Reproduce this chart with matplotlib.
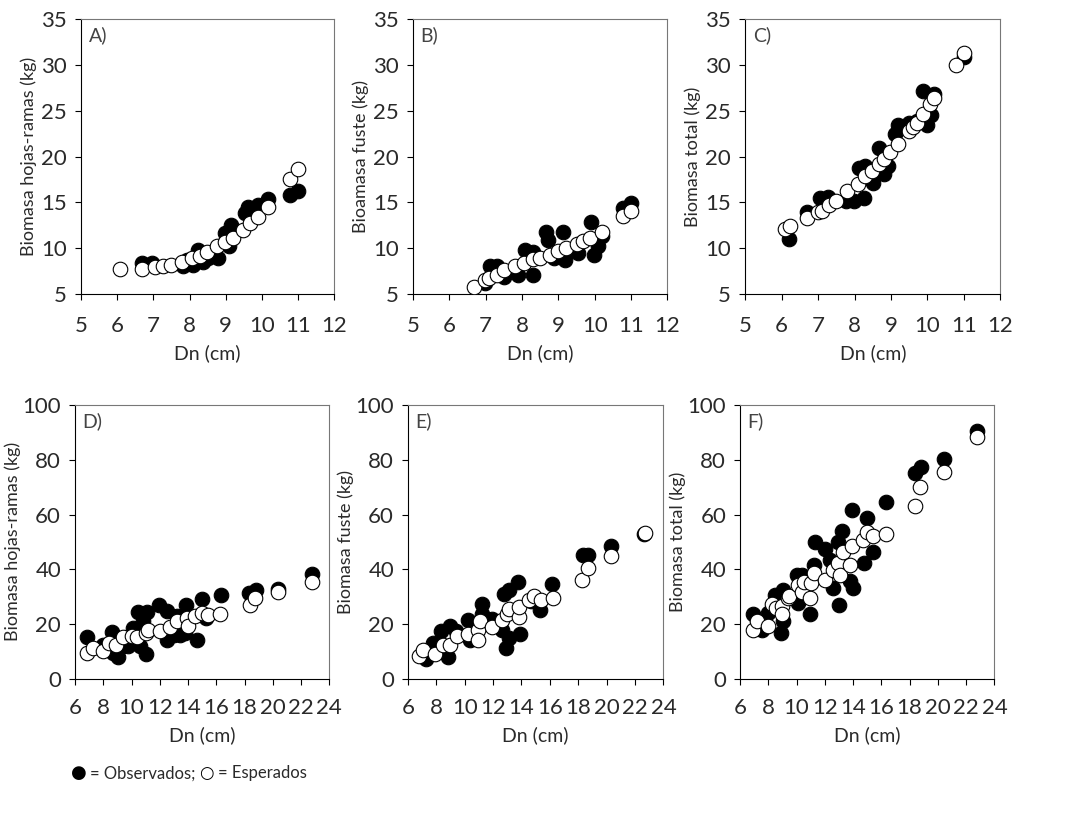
import matplotlib
matplotlib.use("Agg")
import matplotlib.pyplot as plt

plt.rcParams['font.family'] = ['Lato', 'DejaVu Sans']

# --- datos (Dn en cm, biomasa en kg) ---
# A) hojas-ramas, fila superior
a_obs_x = [6.68, 6.95, 7.83, 7.92, 8.1, 8.24, 8.38, 8.52, 8.8, 8.98, 9.1, 9.16, 9.53, 9.62, 9.9, 10.17, 10.77, 11.0]
a_obs_y = [8.35, 8.35, 8.0, 8.7, 8.2, 9.8, 8.5, 8.9, 8.9, 11.6, 10.2, 12.5, 13.8, 14.5, 14.7, 15.4, 15.8, 16.2]
a_esp_x = [6.08, 6.68, 7.04, 7.27, 7.5, 7.78, 8.06, 8.29, 8.47, 8.75, 8.98, 9.19, 9.48, 9.67, 9.9, 10.17, 10.77, 11.0]
a_esp_y = [7.73, 7.73, 7.9, 8.0, 8.2, 8.5, 8.9, 9.15, 9.6, 10.2, 10.7, 11.15, 12.0, 12.7, 13.4, 14.5, 17.5, 18.6]

# B) fuste
b_obs_x = [6.99, 7.11, 7.3, 7.5, 7.89, 8.08, 8.3, 8.3, 8.67, 8.72, 8.88, 9.13, 9.18, 9.55, 9.9, 9.99, 10.08, 10.19, 10.79, 11.0]
b_obs_y = [6.17, 8.0, 8.1, 6.9, 7.1, 9.8, 9.6, 7.1, 11.8, 10.9, 8.9, 11.8, 8.66, 9.5, 12.9, 9.3, 10.2, 11.3, 14.4, 14.9]
b_esp_x = [6.67, 6.97, 7.08, 7.3, 7.5, 7.8, 8.06, 8.3, 8.49, 8.76, 8.99, 9.2, 9.5, 9.68, 9.87, 10.19, 10.79, 11.0]
b_esp_y = [5.73, 6.57, 6.76, 7.1, 7.56, 8.0, 8.4, 8.8, 8.95, 9.3, 9.7, 10.0, 10.4, 10.8, 11.15, 11.8, 13.5, 14.1]

# C) total
c_obs_x = [6.21, 6.69, 7.06, 7.26, 7.77, 7.99, 8.26, 8.11, 8.29, 8.52, 8.8, 8.93, 8.68, 9.1, 9.19, 9.48, 9.71, 9.87, 10.0, 10.1, 10.17, 10.99]
c_obs_y = [11.0, 14.0, 15.5, 15.6, 15.1, 15.1, 15.5, 18.7, 19.0, 17.1, 18.1, 18.97, 20.9, 22.5, 23.4, 23.7, 23.9, 27.2, 23.4, 24.5, 26.8, 30.9]
c_esp_x = [6.1, 6.22, 6.69, 7.01, 7.1, 7.3, 7.5, 7.79, 8.09, 8.29, 8.48, 8.66, 8.8, 8.98, 9.19, 9.48, 9.6, 9.71, 9.87, 10.08, 10.19, 10.79, 10.99]
c_esp_y = [12.06, 12.4, 13.3, 14.0, 14.1, 14.7, 15.2, 16.2, 17.0, 17.9, 18.4, 19.2, 19.7, 20.5, 21.35, 22.8, 23.2, 23.7, 24.7, 25.7, 26.4, 30.0, 31.3]

# D) hojas-ramas, fila inferior
d_obs_x = [6.87, 8.0, 8.6, 8.72, 9.07, 9.4, 9.77, 10.1, 10.43, 10.6, 10.8, 11.0, 11.1, 11.97, 12.5, 12.5, 13.0, 13.2, 13.4, 13.8, 13.85, 14.6, 14.96, 15.3, 16.3, 18.3, 18.8, 20.4, 22.8]
d_obs_y = [15.3, 12.5, 17.1, 9.5, 8.0, 12.1, 11.9, 18.6, 24.3, 11.9, 21.0, 9.2, 24.4, 26.8, 24.6, 14.3, 16.1, 22.8, 16.1, 16.7, 26.8, 14.1, 29.2, 22.2, 30.5, 31.3, 32.3, 32.8, 38.3]
d_esp_x = [6.87, 7.3, 8.0, 8.43, 8.9, 9.4, 10.0, 10.36, 11.0, 11.2, 12.0, 12.7, 13.2, 13.9, 14.0, 14.5, 14.96, 15.4, 16.26, 18.38, 18.73, 20.4, 22.8]
d_esp_y = [9.5, 11.3, 10.1, 13.1, 12.5, 15.3, 15.8, 15.3, 16.7, 18.0, 17.4, 18.9, 21.0, 22.2, 19.2, 22.8, 24.0, 23.4, 23.7, 27.1, 29.5, 31.6, 35.3]

# E) fuste
e_obs_x = [7.3, 7.77, 8.36, 8.83, 8.95, 9.42, 10.25, 10.36, 11.2, 11.2, 11.9, 12.6, 12.77, 12.9, 13.1, 13.1, 13.78, 13.9, 14.7, 15.3, 16.14, 18.3, 18.7, 20.3, 22.6]
e_obs_y = [7.3, 13.1, 17.4, 8.0, 19.2, 17.4, 21.6, 14.3, 27.5, 23.5, 22.0, 18.0, 31.1, 11.3, 32.6, 14.9, 35.2, 16.2, 28.3, 25.0, 34.6, 45.3, 45.3, 48.4, 53.0]
e_esp_x = [6.8, 7.06, 7.9, 8.48, 8.95, 9.47, 10.25, 10.96, 10.96, 11.07, 11.9, 12.6, 12.96, 13.15, 13.8, 13.86, 14.5, 14.9, 15.36, 16.2, 18.26, 18.7, 20.3, 22.7]
e_esp_y = [8.3, 10.7, 8.9, 12.5, 12.2, 15.6, 16.2, 18.0, 14.3, 21.0, 18.8, 21.6, 23.5, 25.5, 22.6, 26.2, 28.9, 30.1, 28.9, 29.5, 36.2, 40.5, 44.7, 53.2]

# F) total
f_obs_x = [6.9, 7.54, 8.0, 8.48, 8.9, 9.07, 9.07, 10.0, 10.13, 10.37, 10.96, 11.2, 11.3, 12.0, 12.4, 12.6, 12.9, 13.0, 13.2, 13.76, 13.9, 14.0, 14.74, 15.02, 15.4, 16.3, 18.4, 18.8, 20.4, 22.8]
f_obs_y = [23.5, 18.0, 24.1, 30.7, 16.8, 32.6, 21.0, 38.0, 27.7, 38.0, 23.5, 41.7, 49.9, 47.4, 43.5, 33.2, 49.8, 27.1, 54.1, 35.6, 61.5, 33.2, 42.3, 58.7, 46.5, 64.4, 75.3, 77.2, 80.2, 90.6]
f_esp_x = [6.9, 7.18, 8.0, 8.24, 8.55, 8.95, 8.95, 9.43, 9.5, 10.13, 10.37, 10.5, 10.96, 11.03, 11.2, 12.0, 12.56, 12.9, 13.1, 13.3, 13.76, 13.95, 14.67, 15.0, 15.4, 16.3, 18.4, 18.75, 20.4, 22.8]
f_esp_y = [18.0, 21.0, 19.2, 27.5, 25.9, 26.5, 23.5, 29.5, 30.4, 34.4, 31.6, 35.2, 29.5, 35.0, 38.6, 36.2, 39.6, 42.3, 38.0, 46.2, 41.7, 48.6, 50.8, 53.8, 52.0, 53.0, 63.2, 70.0, 75.7, 88.2]

letras = ['A)', 'B)', 'C)', 'D)', 'E)', 'F)']
ylabels = ['Biomasa hojas-ramas (kg)', 'Bioamasa fuste (kg)', 'Biomasa total (kg)',
           'Biomasa hojas-ramas (kg)', 'Biomasa fuste (kg)', 'Biomasa total (kg)']
obs = [(a_obs_x, a_obs_y), (b_obs_x, b_obs_y), (c_obs_x, c_obs_y),
       (d_obs_x, d_obs_y), (e_obs_x, e_obs_y), (f_obs_x, f_obs_y)]
esp = [(a_esp_x, a_esp_y), (b_esp_x, b_esp_y), (c_esp_x, c_esp_y),
       (d_esp_x, d_esp_y), (e_esp_x, e_esp_y), (f_esp_x, f_esp_y)]

# posiciones de los ejes en fracción de figura
pos = [[0.0745, 0.648, 0.233, 0.329],
       [0.380, 0.648, 0.234, 0.329],
       [0.6854, 0.648, 0.235, 0.329],
       [0.069, 0.187, 0.234, 0.328],
       [0.3753, 0.187, 0.235, 0.328],
       [0.6808, 0.187, 0.234, 0.328]]

txt = '#2a2a2a'
fig = plt.figure(figsize=(10.87, 8.35), dpi=100)

for i in range(6):
    ax = fig.add_axes(pos[i])
    ax.scatter(obs[i][0], obs[i][1], s=110, c='black', edgecolors='black', linewidths=0.8, zorder=2)
    ax.scatter(esp[i][0], esp[i][1], s=110, c='white', edgecolors='black', linewidths=0.8, zorder=3)
    if i < 3:
        ax.set_xlim(5, 12)
        ax.set_ylim(5, 35)
        ax.set_xticks(range(5, 13))
        ax.set_yticks(range(5, 36, 5))
        xpad, ypad = 12, 3
    else:
        ax.set_xlim(6, 24)
        ax.set_ylim(0, 100)
        ax.set_xticks(range(6, 25, 2))
        ax.set_yticks(range(0, 101, 20))
        xpad, ypad = 10, 1
    ax.tick_params(direction='out', length=4, width=0.8, labelsize=16, labelcolor=txt)
    ax.tick_params(axis='x', pad=xpad)
    ax.tick_params(axis='y', pad=6)
    for s in ['top', 'right']:
        ax.spines[s].set_color('#777777')
    for s in ['left', 'bottom']:
        ax.spines[s].set_color('black')
    ax.set_xlabel('Dn (cm)', fontsize=14, color=txt, labelpad=6)
    ax.set_ylabel(ylabels[i], fontsize=13, color=txt, labelpad=ypad)
    ax.text(0.03, 0.975, letras[i], transform=ax.transAxes, ha='left', va='top',
            fontsize=14, color='#444444')

fig.text(0.0653, 0.074, '\u25CF', fontsize=13, color='black', va='center', ha='left',
         family=['DejaVu Sans'])
fig.text(0.083, 0.074, '= Observados;', fontsize=12, color=txt, va='center', ha='left')
fig.text(0.1835, 0.074, '\u25CB', fontsize=12, color='black', va='center', ha='left',
         family=['DejaVu Sans'])
fig.text(0.201, 0.074, '= Esperados', fontsize=12, color=txt, va='center', ha='left')

fig.savefig('out.png', dpi=100)
